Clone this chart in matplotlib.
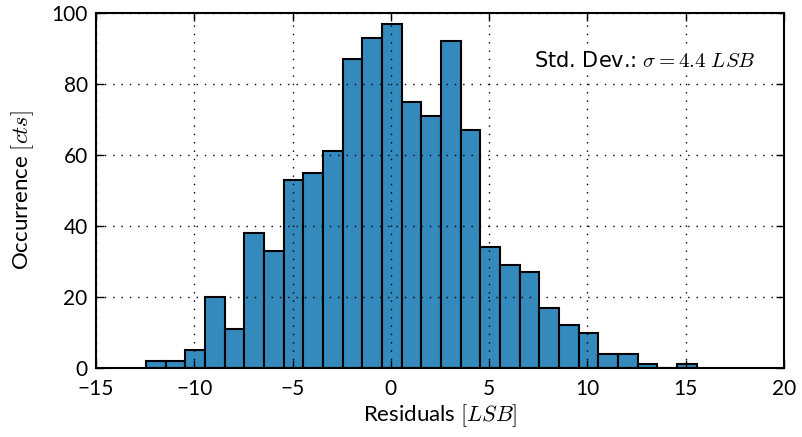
import numpy as np
import matplotlib
matplotlib.use("Agg")
import matplotlib.pyplot as plt

# Histogram of residuals: bin centres and counts per bin
bin_centers = [-12, -11, -10, -9, -8, -7, -6, -5, -4, -3, -2, -1, 0, 1,
               2, 3, 4, 5, 6, 7, 8, 9, 10, 11, 12, 13, 14, 15]
counts = [2, 2, 5, 20, 11, 38, 33, 53, 55, 61, 87, 93, 97, 75,
          71, 92, 67, 34, 29, 27, 17, 12, 10, 4, 4, 1, 0, 1]
x_ticks = [-15, -10, -5, 0, 5, 10, 15, 20]
y_ticks = [0, 20, 40, 60, 80, 100]
std_dev = 4.4

plt.rcParams['mathtext.fontset'] = 'cm'
label_font = ['Lato', 'DejaVu Sans']

fig = plt.figure(figsize=(8.02, 4.37), dpi=100)
ax = fig.add_axes([96 / 802, 1 - 368 / 437, 688 / 802, 355 / 437])

edges = np.linspace(-12.46, 15.56, len(bin_centers) + 1)
ax.hist(bin_centers, bins=edges, weights=counts, color='#348ABD',
        edgecolor='black', linewidth=1.5, zorder=1)

ax.set_xlim(-15, 20)
ax.set_ylim(0, 100)
ax.set_xticks(x_ticks)
ax.set_yticks(y_ticks)
ax.set_xticklabels([f'\u2212{abs(v)}' if v < 0 else str(v) for v in x_ticks],
                   family=label_font, fontsize=15)
ax.set_yticklabels([str(v) for v in y_ticks], family=label_font, fontsize=15)
ax.tick_params(axis='x', pad=8)
ax.tick_params(axis='y', pad=6)
ax.tick_params(direction='in', top=True, right=True, length=6, width=1)
ax.grid(True, linestyle=(0, (1, 5)), color='black', linewidth=1, zorder=2)
ax.set_axisbelow(False)
for s in ax.spines.values():
    s.set_linewidth(1.5)

ax.set_xlabel(r'Residuals $[LSB]$', family=label_font, fontsize=16, labelpad=2)
ax.set_ylabel(r'Occurrence $[cts]$', family=label_font, fontsize=16, labelpad=11)

ax.text(0.958, 0.865, r'Std. Dev.: $\sigma = %.1f\ LSB$' % std_dev,
        transform=ax.transAxes, ha='right', va='center', fontsize=15,
        bbox=dict(facecolor='white', edgecolor='none', pad=2))

fig.savefig('out.png', dpi=100)
